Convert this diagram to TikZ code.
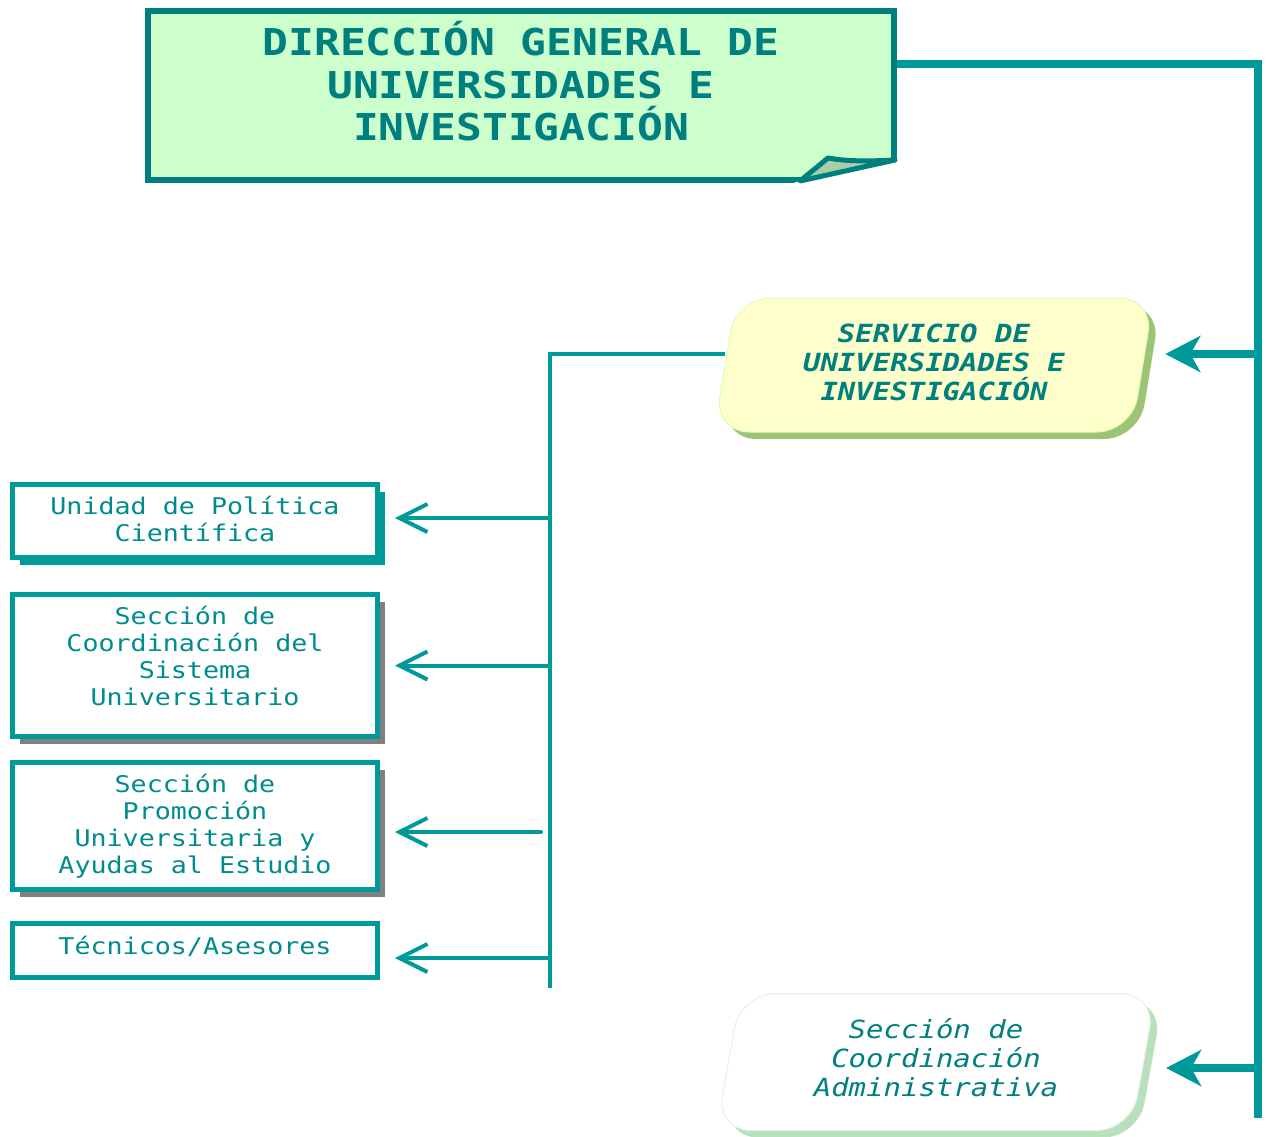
\documentclass[tikz,border=0pt]{standalone}
\usepackage{fontspec}
\usetikzlibrary{arrows.meta,shapes.geometric,shadows,calc}
\newfontfamily\mono[FakeStretch=1.16]{DejaVu Sans Mono}
\definecolor{verdeazul}{HTML}{007F7F}
\definecolor{linea}{HTML}{009999}
\definecolor{textoazul}{HTML}{008C8C}
\definecolor{fondodg}{HTML}{CCFFCC}
\definecolor{pliegue}{HTML}{A8D0A8}
\definecolor{amarillo}{HTML}{FFFFCC}
\definecolor{sombraserv}{HTML}{9DC476}
\definecolor{sombrasec}{HTML}{B8E0BC}
\begin{document}
\begin{tikzpicture}[x=1pt,y=-1pt,
    dgbox/.style={draw=verdeazul,line width=6pt,fill=fondodg,minimum width=746pt,minimum height=169pt,inner sep=0pt,align=center,text=verdeazul,font=\mono\bfseries\fontsize{37}{42.5}\selectfont,text depth=29pt},
    serbox/.style={trapezium,trapezium left angle=80,trapezium right angle=100,trapezium stretches=true,rounded corners=35pt,minimum width=440pt,minimum height=134pt,inner sep=0pt,align=center,text=verdeazul},
    caja/.style={draw=linea,line width=5pt,fill=white,minimum width=365pt,inner sep=0pt,align=center,text=textoazul,font=\mono\fontsize{23}{27}\selectfont},
    sombra/.style={drop shadow={shadow xshift=7pt,shadow yshift=-7pt,fill=#1,opacity=1}},
    bus/.style={draw=linea,line width=7.5pt},
    rama/.style={draw=linea,line width=4pt},
    flecha/.style={-{Stealth[length=35pt,width=36pt,inset=10pt]}},
    flechita/.style={-{Straight Barb[length=28pt,width=28pt]},line cap=round,shorten >=15pt}]
  \useasboundingbox (0,0) rectangle (1269,1136);
  \node[dgbox] (dg) at (521,95.5) {DIRECCIÓN GENERAL DE\\UNIVERSIDADES E\\INVESTIGACIÓN};
  \fill[white] (800,181) -- (895,160) -- (900,160) -- (900,187) -- (790,187) -- (790,184) -- cycle; %esquina
  \draw[verdeazul,line width=5pt,line join=round,fill=pliegue] (800,181) -- (828,158) .. controls (850,162) and (875,161) .. (895,160) -- cycle; %pliegue
  \node[serbox,fill=amarillo,draw=amarillo!85!green,line width=1pt,sombra=sombraserv,font=\mono\bfseries\itshape\fontsize{25}{29}\selectfont,text depth=6pt] (serv) at (934,365) {SERVICIO DE\\UNIVERSIDADES E\\INVESTIGACIÓN};
  \node[serbox,fill=white,draw=sombrasec!40,line width=1pt,sombra=sombrasec,font=\mono\itshape\fontsize{25}{29}\selectfont,text depth=9pt,minimum height=137pt] (secad) at (936,1062) {Sección de\\Coordinación\\Administrativa};
  \node[caja,sombra=linea,minimum height=73pt,text depth=4.6pt] (upc) at (195,521) {Unidad de Política\\Científica};
  \node[caja,sombra=gray,minimum height=142pt,text depth=20pt] (scsu) at (195,665.5) {Sección de\\Coordinación del\\Sistema\\Universitario};
  \node[caja,sombra=gray,minimum height=127pt,text depth=5.2pt] (spu) at (195,826) {Sección de\\Promoción\\Universitaria y\\Ayudas al Estudio};
  \node[caja,minimum height=54pt,text depth=9.5pt] (tec) at (195,950) {Técnicos/Asesores};
  \coordinate (busfin) at (1258,1118);
  \coordinate (ramafin) at (550,988);
  \coordinate (dgout) at ([yshift=31.5pt]dg.east);
  \draw[bus] (dgout) -| (busfin); %linea derecha
  \coordinate (servin) at ([xshift=22pt,yshift=11pt]serv.east);
  \coordinate (secin) at ([xshift=22pt,yshift=-6pt]secad.east);
  \draw[bus,flecha] (busfin |- servin) -- (servin);
  \draw[bus,flecha] (busfin |- secin) -- (secin);
  \draw[rama] ([yshift=11pt]serv.west) -| (ramafin); %linea izquierda
  \coordinate (upcin) at ([yshift=3pt]upc.east);
  \draw[rama,flechita] (ramafin |- upcin) -- (upcin);
  \draw[rama,flechita] (ramafin |- scsu.east) -- (scsu.east);
  \coordinate (spuin) at ([yshift=-6pt]spu.east);
  \draw[rama,flechita] ($(ramafin |- spuin)+(-9,0)$) -- (spuin);
  \coordinate (tecin) at ([yshift=-8pt]tec.east);
  \draw[rama,flechita] (ramafin |- tecin) -- (tecin);
\end{tikzpicture}
\end{document}
